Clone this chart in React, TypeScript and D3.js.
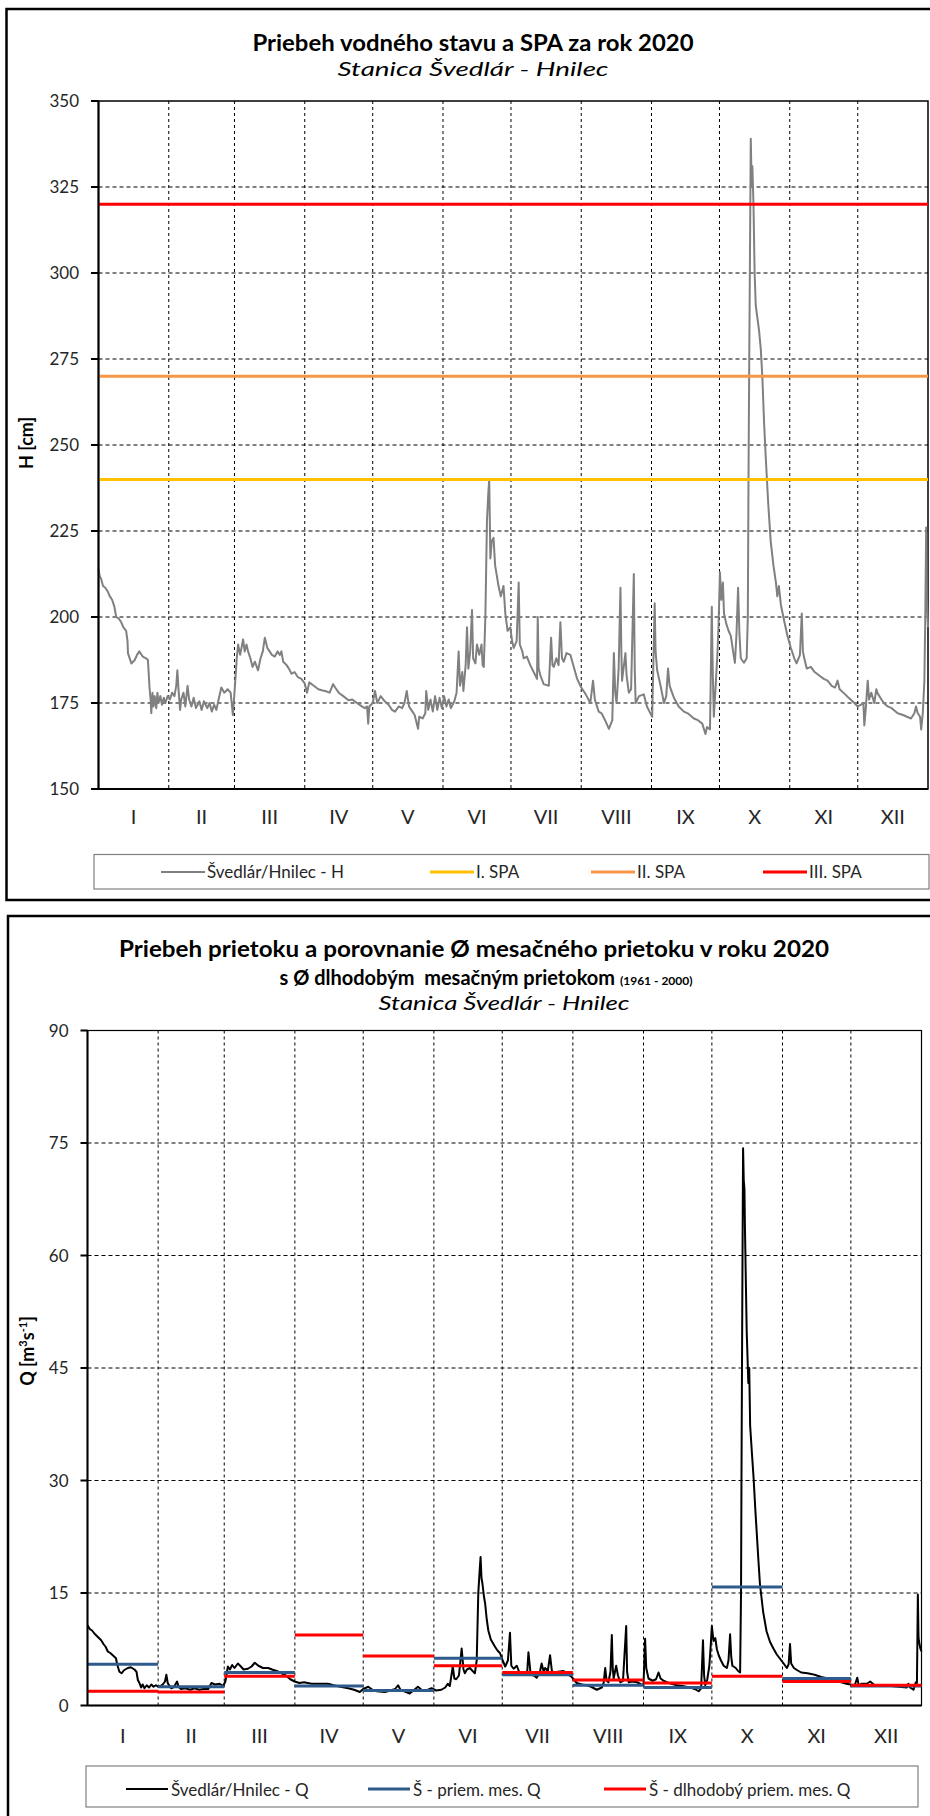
import React from 'react';
import * as d3 from 'd3';

// ---------- DATA ----------
const MONTHS = ['I', 'II', 'III', 'IV', 'V', 'VI', 'VII', 'VIII', 'IX', 'X', 'XI', 'XII'];
const MONTH_START_DAYS = [0, 31, 60, 91, 121, 152, 182, 213, 244, 274, 305, 335, 366];
const H_TICKS = [150, 175, 200, 225, 250, 275, 300, 325, 350];
const Q_TICKS = [0, 15, 30, 45, 60, 75, 90];
const SPA_LEVELS = [240, 270, 320];
const SPA_NAMES = ['I. SPA', 'II. SPA', 'III. SPA'];
const H_NAME = 'Švedlár/Hnilec - H';
const Q_NAMES = ['Švedlár/Hnilec - Q', 'Š - priem. mes. Q', 'Š - dlhodobý priem. mes. Q'];

// Water level H [cm], (day of year, value)
const H_SERIES: [number, number][] = [
  [0, 214], [0.5, 212], [1.2, 211], [2, 209], [3, 208.5], [4, 207.5], [5, 206], [6, 205], [7, 203], [7.8, 200],
  [9, 199.5], [10, 198.5], [11, 197], [12.2, 196], [12.8, 193], [13, 189.5], [14.5, 186.5], [16, 187.5], [17, 189],
  [18, 190], [19.5, 188.5], [21, 188], [21.8, 187.5], [22.3, 182], [22.5, 179.5], [23, 176], [23.3, 172], [23.8, 178],
  [24.3, 174], [24.8, 177], [25.5, 173.5], [26, 178], [26.5, 175], [27.3, 177], [28, 174.5], [28.8, 176.5], [29.5, 175],
  [30.5, 177], [31.5, 176], [32.5, 178], [33.5, 177], [34.3, 180], [34.8, 184.5], [35.3, 179], [36, 173], [36.5, 176],
  [37.5, 178], [38.3, 174], [39.3, 180], [40, 176], [41, 174], [42, 176.5], [43, 173.5], [44.5, 175.5], [45.5, 173],
  [46.5, 175.5], [48, 173.5], [49, 175], [50, 172.5], [51, 174.5], [52, 173], [53, 176], [54.2, 179.5], [55.5, 178],
  [57, 179], [58.3, 178], [59.3, 171.5], [60, 178], [61, 188], [61.6, 192], [62.5, 189], [63.8, 193.5], [64.5, 190],
  [65.3, 192], [66, 190], [67, 188], [68, 185.5], [69, 187], [70.4, 184.5], [71.5, 188], [72.5, 190], [73.4, 194],
  [74.5, 191], [75.5, 190], [76.5, 189], [77.8, 188.5], [79, 190], [80, 189], [80.7, 190], [81.5, 187], [83, 186],
  [84, 185], [85.2, 183.5], [86.5, 184], [88, 182.5], [89.5, 182], [91, 180.7], [92, 178], [93, 181], [95, 180],
  [97, 179], [98.5, 178.7], [100, 178.5], [102, 178], [103.5, 180.5], [104.4, 179.5], [106, 178], [108, 177],
  [110.3, 175.8], [112, 176], [114, 175], [116.2, 174], [117.5, 173.5], [118.5, 174], [119, 169], [119.5, 174],
  [121, 175], [122, 178.5], [123, 175], [124.5, 177], [126.3, 175.5], [128, 174.5], [129.5, 173], [130.8, 172.5],
  [132.5, 174], [134, 173.5], [135, 175], [136, 178.5], [137, 174], [138, 173], [139.5, 171.5], [141, 167.5],
  [141.5, 171], [143, 170.5], [144.2, 172], [144.6, 178.5], [145.5, 173], [146.5, 176], [147.5, 172.5], [148.5, 177],
  [149.5, 173], [150.5, 176.5], [151.5, 173.5], [152.5, 177], [153.5, 174], [154.5, 176], [155.5, 173.5], [157, 175.5],
  [158, 178], [158.9, 190], [159.5, 180], [160.5, 184], [161, 178.5], [162, 186], [162.6, 197], [163.2, 185], [164, 190],
  [164.8, 202], [165.3, 188], [166.3, 186.5], [167, 192], [168, 189], [169, 192], [169.5, 186], [170, 185.5],
  [170.7, 200], [171.4, 228], [172, 236], [172.4, 240], [172.9, 217], [173.5, 222], [174.3, 223], [175, 215],
  [176, 211], [176.5, 209], [177.5, 206], [178.7, 209], [179.5, 201], [180.5, 196], [181.7, 197], [182.5, 193],
  [183.2, 191], [184.5, 193], [185.4, 210], [185.9, 192], [187, 190], [187.6, 188], [189, 188.5], [190.5, 186],
  [192, 184], [193.5, 182], [193.8, 200], [194.2, 185], [195, 183], [196.4, 180.5], [198.7, 180], [199.7, 194],
  [200.3, 186], [200.9, 185.5], [202, 188], [203, 186], [203.8, 198.5], [204.5, 188], [205.3, 187], [206.5, 189.5],
  [208.2, 189], [209.5, 186], [211.2, 182], [213, 179.5], [215, 177.5], [217, 175], [218.2, 181.5], [219, 176],
  [220.7, 172.5], [222, 172], [223.5, 170], [225.2, 167.5], [226.7, 170], [227.4, 189.5], [228, 178], [228.6, 175],
  [229.5, 185], [230.3, 208.5], [230.7, 190], [231, 181.5], [232.5, 189.5], [233, 183], [234, 178], [235, 179],
  [236.2, 212.5], [236.6, 185], [237, 175], [238.5, 177], [240.6, 177.5], [242, 174], [243.5, 172], [244.3, 171],
  [245.4, 204], [245.8, 190], [246.5, 184.5], [248, 180], [249.5, 175], [250.5, 177], [251.3, 185], [252, 180],
  [253.9, 176.5], [256, 174], [258.3, 172.5], [260, 172], [262.7, 170.5], [264.5, 170], [266.4, 169], [267.8, 166],
  [268.5, 168], [269.8, 167.3], [270.6, 203], [271, 185], [271.5, 171], [272.3, 180], [273.1, 189.5], [273.6, 198],
  [274.2, 213], [274.8, 205], [275.5, 210], [276, 201], [277, 198], [278, 196], [279, 194.5], [280, 190],
  [280.8, 186.7], [281.5, 195], [282.2, 208.5], [282.8, 195], [283.4, 188], [284.8, 186.7], [286, 188], [286.5, 200],
  [286.8, 240], [287.1, 272], [287.5, 310], [287.8, 339], [288.2, 325], [288.5, 331], [289, 320], [289.5, 300],
  [290, 290.5], [290.7, 287], [291.5, 283], [292.2, 278], [292.9, 270], [293.7, 256], [294.4, 246.5], [295.5, 233],
  [296.6, 222], [297.8, 215], [298.9, 210], [299.5, 206], [300.2, 209], [301.1, 203.5], [302.5, 199], [304, 194.5],
  [305.5, 191], [307, 188], [308, 186.5], [309.5, 189], [310.3, 201], [310.8, 190], [311.4, 188], [312.5, 185],
  [314.3, 185.5], [316, 184], [318, 183], [320, 182], [321.7, 181.5], [323.5, 180], [325, 179.5], [326.1, 181.5],
  [327, 179], [329, 177.8], [331, 176.5], [333.5, 175], [335, 174], [336.5, 174.5], [337.5, 175], [337.9, 168.5],
  [338.5, 173], [339.4, 181.5], [340, 176], [341, 178], [342.3, 175], [343.2, 179], [343.8, 177.8], [345, 176.5],
  [346.5, 175], [348.2, 174], [350, 173.5], [352.6, 172], [355, 171.5], [358.5, 170.5], [360, 172], [360.7, 174],
  [361.5, 172], [362.5, 171], [363, 167.3], [363.7, 172], [364.4, 181.5], [364.8, 200], [365.2, 226], [365.5, 205],
  [366, 197],
];

// Discharge Q [m3/s], (day of year, value)
const Q_SERIES: [number, number][] = [
  [0, 10.7], [1, 10.2], [2, 10], [3, 9.6], [4, 9.3], [5, 9], [6, 8.7], [7, 8.2], [8, 7.8], [8.9, 7.2], [10, 7.0],
  [11.8, 6.5], [12.5, 6.3], [13, 5.5], [14, 4.5], [15, 4.3], [16, 4.7], [17.7, 5.0], [19, 5.1], [20.6, 4.8],
  [21.5, 4.5], [22.1, 3.4], [22.8, 3.0], [23.5, 2.4], [24.2, 2.8], [25, 2.3], [26, 2.7], [27, 2.4], [28, 2.8],
  [29, 2.5], [30, 2.7], [31, 2.5], [32, 2.6], [33, 2.8], [34, 3.2], [34.6, 4.1], [35.2, 3.0], [36, 2.6], [36.8, 2.3],
  [38, 2.5], [39.3, 3.2], [40, 2.5], [41, 2.2], [43, 2.3], [45, 2.1], [47, 2.3], [49, 2.1], [51, 2.2], [53, 2.2],
  [54.4, 3.0], [56, 2.8], [58, 2.9], [59.5, 2.6], [60.5, 3.2], [61.6, 5.2], [62.5, 4.8], [63.5, 5.4], [64.5, 5.0],
  [66, 5.6], [67, 5.3], [68.5, 4.8], [70.4, 4.9], [72, 5.2], [73.4, 5.7], [75, 5.3], [77, 5.0], [79.3, 5.0],
  [81, 4.8], [83, 4.6], [85.2, 4.3], [87, 4.0], [89, 3.5], [90.9, 3.2], [93, 3.0], [95, 3.1], [98.3, 2.9],
  [101, 2.9], [103.5, 2.9], [105.6, 2.9], [108, 2.7], [111, 2.5], [114.4, 2.3], [117, 2.1], [119.5, 1.8],
  [121, 2.2], [123.2, 2.5], [125, 2.1], [127, 1.9], [130.5, 1.8], [133, 2.0], [135, 2.2], [136.3, 2.7],
  [137.5, 2.0], [139, 1.9], [141.4, 1.6], [143, 2.0], [145, 2.5], [147, 2.0], [149.4, 2.1], [151, 2.3], [153, 2.0],
  [155.3, 2.1], [157, 2.4], [158.1, 2.9], [159, 2.6], [160.3, 5.2], [161, 3.6], [161.8, 3.5], [163, 4.0],
  [164.2, 7.6], [165, 4.8], [165.6, 4.3], [166.5, 4.8], [167.8, 5.0], [169, 4.6], [170, 4.3], [170.8, 6],
  [171.5, 15], [172.1, 18], [172.5, 19.8], [172.9, 17], [173.3, 16.3], [174, 14.5], [174.5, 13.6], [175.2, 11.5],
  [175.9, 10], [177, 8.8], [178.9, 7.8], [180, 7.3], [181, 7.0], [182.2, 6], [183.3, 5.2], [184.5, 6], [185.4, 9.7],
  [186, 5.3], [187, 4.9], [188.4, 5.3], [189.9, 4.1], [191.5, 4.3], [193, 4.6], [193.5, 7.1], [194.5, 4.1],
  [196, 4], [197.1, 3.7], [198.5, 4.4], [199.3, 5.6], [200.2, 4.5], [200.8, 5.0], [202, 4.6], [203, 6.7],
  [203.8, 4.6], [204.5, 4.4], [206.5, 4.5], [208.9, 4.6], [210.5, 4.2], [212.5, 3.8], [214.7, 3.0], [217, 2.8],
  [219.1, 2.7], [221, 2.5], [223.5, 2.1], [225.7, 2.4], [226.5, 3.0], [227.2, 5.0], [227.8, 3.3], [228.6, 3.1],
  [229.5, 4.5], [230.1, 9.4], [230.5, 5.0], [230.9, 3.6], [232, 5.3], [232.8, 4.0], [233.8, 3.1], [235, 3.3],
  [236.4, 10.6], [236.8, 4.5], [237.5, 3.1], [239, 3.2], [241.2, 3.1], [243, 2.8], [244, 2.7], [244.7, 8.9],
  [245.2, 5.0], [246.2, 3.6], [248, 3.3], [249.5, 3.5], [250.6, 4.4], [251.5, 3.6], [252.8, 3.3], [255, 3.0],
  [258.7, 2.7], [261, 2.6], [264.5, 2.4], [266.5, 2.2], [268.2, 1.9], [269.3, 2.3], [270.1, 8.7], [270.6, 4.0],
  [271.1, 2.7], [272, 3.5], [272.9, 5.3], [273.5, 8], [274, 10.6], [274.7, 8.6], [275.5, 9.0], [276.2, 7.5],
  [277, 6.7], [278, 6.0], [279.2, 5.3], [280.6, 5.0], [281.3, 6], [282, 9.5], [282.5, 6.5], [283, 5.3],
  [284.5, 5.0], [285.5, 4.6], [286.4, 4.4], [286.8, 15], [287, 30.4], [287.4, 56.6], [287.7, 74.3], [288, 70],
  [288.3, 68.9], [288.5, 64], [288.7, 60.5], [289, 55], [289.3, 49.8], [290, 43], [290.4, 45], [290.8, 37.3],
  [291.5, 34], [292.3, 30.4], [293, 26.5], [293.7, 23], [294.4, 19.5], [295.1, 16.2], [296.5, 12.5], [298, 9.9],
  [299.5, 8.5], [301, 7.6], [302.5, 6.8], [304, 6.2], [305.5, 5.6], [306.9, 5.0], [307.7, 5.5], [308.3, 8.2],
  [308.8, 5.6], [310, 5.0], [311.5, 4.7], [313.2, 4.4], [316, 4.3], [319.1, 4.1], [322, 3.8], [325, 3.6],
  [328, 3.3], [330.8, 3.1], [333, 2.9], [336.7, 2.7], [337.8, 3.7], [338.5, 2.6], [339.6, 2.9], [342, 2.9],
  [343.5, 3.2], [345.4, 2.7], [348, 2.6], [350, 2.7], [352.7, 2.6], [356, 2.5], [359.6, 2.4], [360.2, 2.9],
  [361, 2.4], [362.5, 2.1], [363.5, 3.1], [364, 3.0], [364.4, 14.8], [364.7, 9], [365, 8.4], [365.5, 7.6], [366, 7.2],
];

const Q_MONTHLY_2020 = [5.5, 2.5, 4.4, 2.6, 2.0, 6.3, 4.1, 2.7, 2.4, 15.8, 3.6, 2.6];
const Q_MONTHLY_LONGTERM = [1.9, 1.8, 3.9, 9.4, 6.6, 5.3, 4.4, 3.4, 3.0, 3.9, 3.2, 2.7];

// ---------- STYLE ----------
const FONT = 'Lato, "Open Sans", sans-serif';
const SPA_COLORS = ['#FFC000', '#F79646', '#FF0000'];
const H_COLOR = '#808080';
const Q_COLOR = '#000000';
const BLUE = '#2E5A8C';
const RED = '#FF0000';

export default function App() {
  // top chart scales
  const xT = d3.scaleLinear().domain([0, 366]).range([98.5, 928]);
  const yT = d3.scaleLinear().domain([150, 350]).range([789, 101]);
  // bottom chart scales
  const xB = d3.scaleLinear().domain([0, 366]).range([87.5, 921.5]);
  const yB = d3.scaleLinear().domain([0, 90]).range([1705.5, 1030.5]);

  const lineH = d3.line<[number, number]>().x((d) => xT(d[0])).y((d) => yT(d[1]));
  const lineQ = d3.line<[number, number]>().x((d) => xB(d[0])).y((d) => yB(d[1]));

  const [tx0, tx1] = xT.range();
  const [ty0, ty1] = [yT(350), yT(150)];
  const [bx0, bx1] = xB.range();
  const [by0, by1] = [yB(90), yB(0)];

  const monthMid = (i: number) => (MONTH_START_DAYS[i] + MONTH_START_DAYS[i + 1]) / 2;

  return (
    <svg
      width={930}
      height={1816}
      style={{ position: 'absolute', left: 0, top: 0, background: '#fff' }}
      fontFamily={FONT}
    >
      <rect x={0} y={0} width={930} height={1816} fill="#fff" />

      {/* ================= TOP CHART ================= */}
      <rect x={6.5} y={9} width={940} height={891} fill="none" stroke="#000" strokeWidth={2.5} />
      <text x={473} y={51} textAnchor="middle" fontWeight="bold" fontSize={22} textLength={441} lengthAdjust="spacingAndGlyphs" fill="#000">
        Priebeh vodného stavu a SPA za rok 2020
      </text>
      <text x={473} y={76} textAnchor="middle" fontStyle="italic" fontSize={20} textLength={271} lengthAdjust="spacingAndGlyphs" fill="#000">
        Stanica Švedlár - Hnilec
      </text>

      {/* grid */}
      {H_TICKS.filter((t) => t !== 150 && t !== 350).map((t) => (
        <line key={'hg' + t} x1={tx0} x2={tx1} y1={yT(t)} y2={yT(t)} stroke="#000" strokeWidth={1} strokeDasharray="4,3" />
      ))}
      {MONTH_START_DAYS.slice(1, 12).map((d) => (
        <line key={'vg' + d} x1={xT(d)} x2={xT(d)} y1={ty0} y2={ty1} stroke="#000" strokeWidth={1} strokeDasharray="3,3" />
      ))}
      <rect x={tx0} y={ty0} width={tx1 - tx0} height={ty1 - ty0} fill="none" stroke="#000" strokeWidth={1.5} />

      {/* series */}
      <path d={lineH(H_SERIES) || ''} fill="none" stroke={H_COLOR} strokeWidth={2} strokeLinejoin="round" />
      {SPA_LEVELS.map((v, i) => (
        <line key={'spa' + v} x1={tx0} x2={tx1} y1={yT(v)} y2={yT(v)} stroke={SPA_COLORS[i]} strokeWidth={3} />
      ))}

      {/* axes */}
      <line x1={tx0} x2={tx0} y1={ty0} y2={ty1} stroke="#000" strokeWidth={2} />
      <line x1={tx0} x2={tx1} y1={ty1} y2={ty1} stroke="#000" strokeWidth={2} />
      {H_TICKS.map((t) => (
        <g key={'ht' + t}>
          <line x1={tx0 - 7.5} x2={tx0} y1={yT(t)} y2={yT(t)} stroke="#000" strokeWidth={2} />
          <text x={79} y={yT(t)} dy="0.36em" textAnchor="end" fontSize={17} fill="#262626">
            {t}
          </text>
        </g>
      ))}
      {MONTHS.map((m, i) => (
        <text key={'mt' + m} x={xT(monthMid(i))} y={824} textAnchor="middle" fontSize={20} fill="#262626">
          {m}
        </text>
      ))}
      <text transform="translate(33,443) rotate(-90)" textAnchor="middle" fontWeight="bold" fontSize={18} fill="#000">
        H [cm]
      </text>

      {/* legend */}
      <rect x={94} y={854.5} width={835} height={34.5} fill="#fff" stroke="#808080" strokeWidth={1.2} />
      <line x1={161} x2={205} y1={872} y2={872} stroke={H_COLOR} strokeWidth={2} />
      <text x={207} y={878} fontSize={17} fill="#262626">{H_NAME}</text>
      {SPA_NAMES.map((n, i) => {
        const lx = [430, 591, 763][i];
        return (
          <g key={'lg' + n}>
            <line x1={lx} x2={lx + 44} y1={872} y2={872} stroke={SPA_COLORS[i]} strokeWidth={3} />
            <text x={lx + 46} y={878} fontSize={17} fill="#262626">{n}</text>
          </g>
        );
      })}

      {/* ================= BOTTOM CHART ================= */}
      <rect x={8} y={916} width={940} height={910} fill="none" stroke="#000" strokeWidth={2.5} />
      <text x={474} y={957} textAnchor="middle" fontWeight="bold" fontSize={22} textLength={710} lengthAdjust="spacingAndGlyphs" fill="#000">
        Priebeh prietoku a porovnanie Ø mesačného prietoku v roku 2020
      </text>
      <text x={486} y={985} textAnchor="middle" fontWeight="bold" fontSize={20} fill="#000" style={{ whiteSpace: 'pre' }}>
        {'s Ø dlhodobým  mesačným prietokom '}
        <tspan fontSize={12}>(1961 - 2000)</tspan>
      </text>
      <text x={504} y={1010} textAnchor="middle" fontStyle="italic" fontSize={20} textLength={251} lengthAdjust="spacingAndGlyphs" fill="#000">
        Stanica Švedlár - Hnilec
      </text>

      {Q_TICKS.filter((t) => t !== 0 && t !== 90).map((t) => (
        <line key={'qg' + t} x1={bx0} x2={bx1} y1={yB(t)} y2={yB(t)} stroke="#000" strokeWidth={1} strokeDasharray="4,3" />
      ))}
      {MONTH_START_DAYS.slice(1, 12).map((d) => (
        <line key={'vgb' + d} x1={xB(d)} x2={xB(d)} y1={by0} y2={by1} stroke="#000" strokeWidth={1} strokeDasharray="3,3" />
      ))}
      <rect x={bx0} y={by0} width={bx1 - bx0} height={by1 - by0} fill="none" stroke="#000" strokeWidth={1.2} />

      <path d={lineQ(Q_SERIES) || ''} fill="none" stroke={Q_COLOR} strokeWidth={2} strokeLinejoin="round" />
      {Q_MONTHLY_2020.map((v, i) => (
        <line key={'qm' + i} x1={xB(MONTH_START_DAYS[i])} x2={xB(MONTH_START_DAYS[i + 1])} y1={yB(v)} y2={yB(v)} stroke={BLUE} strokeWidth={3} />
      ))}
      {Q_MONTHLY_LONGTERM.map((v, i) => (
        <line key={'ql' + i} x1={xB(MONTH_START_DAYS[i])} x2={xB(MONTH_START_DAYS[i + 1])} y1={yB(v)} y2={yB(v)} stroke={RED} strokeWidth={3} />
      ))}

      <line x1={bx0} x2={bx0} y1={by0} y2={by1} stroke="#000" strokeWidth={2} />
      <line x1={bx0} x2={bx1} y1={by1} y2={by1} stroke="#000" strokeWidth={2} />
      {Q_TICKS.map((t) => (
        <g key={'qt' + t}>
          <line x1={bx0 - 7} x2={bx0} y1={yB(t)} y2={yB(t)} stroke="#000" strokeWidth={2} />
          <text x={68.5} y={yB(t)} dy="0.36em" textAnchor="end" fontSize={17} fill="#262626">
            {t}
          </text>
        </g>
      ))}
      {MONTHS.map((m, i) => (
        <text key={'mb' + m} x={xB(monthMid(i))} y={1743} textAnchor="middle" fontSize={20} fill="#262626">
          {m}
        </text>
      ))}
      <text transform="translate(34,1351) rotate(-90)" textAnchor="middle" fontWeight="bold" fontSize={18} fill="#000">
        Q [m
        <tspan fontSize={11} dy={-7}>3</tspan>
        <tspan dy={7}>s</tspan>
        <tspan fontSize={11} dy={-7}>-1</tspan>
        <tspan dy={7}>]</tspan>
      </text>

      <rect x={86} y={1766} width={832} height={41} fill="#fff" stroke="#808080" strokeWidth={1.2} />
      {Q_NAMES.map((n, i) => {
        const lx = [126, 368, 604][i];
        const col = [Q_COLOR, BLUE, RED][i];
        return (
          <g key={'lq' + i}>
            <line x1={lx} x2={lx + 42} y1={1789} y2={1789} stroke={col} strokeWidth={i === 0 ? 2 : 3} />
            <text x={lx + 45} y={1796} fontSize={17} fill="#262626">{n}</text>
          </g>
        );
      })}
    </svg>
  );
}
